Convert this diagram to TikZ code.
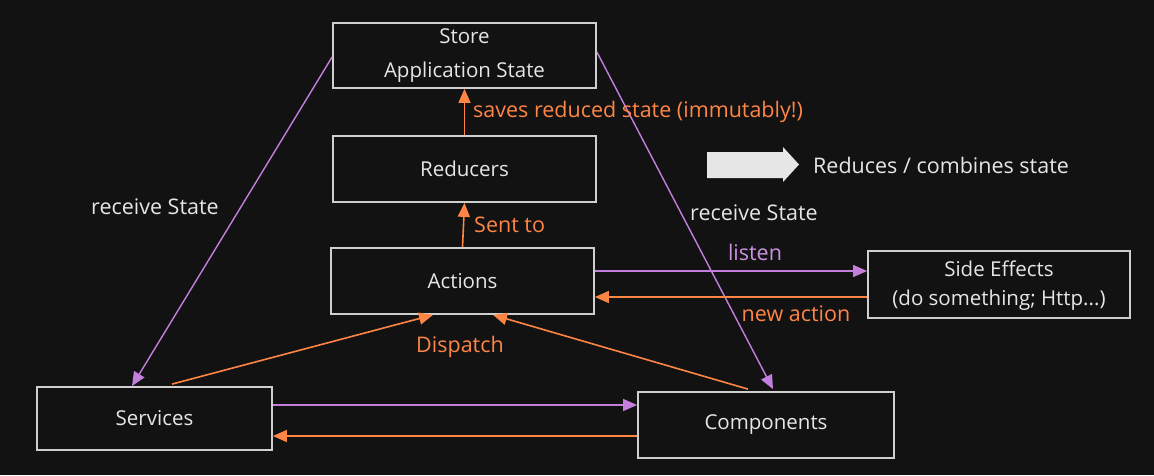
\documentclass[tikz,border=0pt]{standalone}
\usepackage{fontspec}
\setmainfont{Open Sans}
\usetikzlibrary{arrows.meta,calc}
\definecolor{bg}{HTML}{121212}
\definecolor{boxline}{HTML}{CFCFCF}
\definecolor{txt}{HTML}{E6E6E6}
\definecolor{orng}{HTML}{FF8545}
\definecolor{purp}{HTML}{C47FDE}
\tikzset{
  box/.style={draw=boxline, line width=1.8pt, fill=bg, text=txt, font=\fontsize{20.5}{32}\selectfont,
    inner sep=0pt, align=center},
  lbl/.style={font=\fontsize{21.5}{24}\selectfont, inner sep=0pt},
  oarr/.style={draw=orng, line width=1.6pt, -{Triangle[length=14pt,width=12pt]}},
  parr/.style={draw=purp, line width=1.4pt, -{Triangle[length=14pt,width=12pt]}},
}
\begin{document}
\begin{tikzpicture}[x=1pt,y=-1pt]
\fill[bg] (0,0) rectangle (1154,475);
\useasboundingbox (0,0) rectangle (1154,475);

% boxes
\node[box, minimum width=263pt, minimum height=65pt] (store) at (464.5,55.5) {Store\\[2pt]Application State};
\node[box, minimum width=263pt, minimum height=66pt] (reducers) at (464.5,169) {Reducers};
\node[box, minimum width=263pt, minimum height=66pt] (actions) at (462.5,281) {Actions};
\node[box, minimum width=262pt, minimum height=67pt] (side) at (999,284.5) {\rule{0pt}{18pt}Side Effects\\[-3pt](do something; Http...)};
\node[box, minimum width=235pt, minimum height=63pt] (services) at (154.5,418.5) {Services};
\node[box, minimum width=256pt, minimum height=66pt] (components) at (766,425) {Components};

% arrows
\draw[oarr] (reducers.north) -- (store.south);
\draw[oarr] (actions.north) -- (reducers.south);
\draw[parr] ([yshift=-1.5pt]store.west) -- ([xshift=-22.5pt]services.north);
\draw[parr] ([yshift=3.5pt]store.east) -- ([xshift=7pt,yshift=2pt]components.north);
\draw[parr] ([yshift=10pt]actions.east) -- ([yshift=13.5pt]side.west);
\draw[oarr] ([yshift=-12.5pt]side.west) -- ([yshift=-16pt]actions.east);
\draw[oarr] ([xshift=17.5pt,yshift=2pt]services.north) -- ([xshift=-29.5pt]actions.south);
\draw[oarr] ([xshift=-18pt,yshift=2pt]components.north) -- ([xshift=30.5pt]actions.south);
\draw[parr] ([yshift=13.5pt]services.east) -- ([yshift=20pt]components.west);
\draw[oarr] ([yshift=-11pt]components.west) -- ([yshift=-17.5pt]services.east);

% labels
\node[lbl, text=orng, anchor=west] (lsaves) at (473,112) {saves reduced state (immutably!)};
\node[lbl, text=orng, anchor=west] (lsent) at (474,225) {Sent to};
\node[lbl, text=txt, anchor=west] (lrecl) at (91,207) {receive State};
\node[lbl, text=txt, anchor=west] (lrecr) at (690,213) {receive State};
\node[lbl, text=purp!85!white] (llisten) at (755,252) {listen};
\node[lbl, text=orng] (lnew) at (796,314) {new action};
\node[lbl, text=orng] (ldisp) at (460,347) {Dispatch};
\node[lbl, text=txt, anchor=west] (lreduces) at (813,165) {Reduces / combines state};

% big white arrow
\fill[txt] (707,152) -- (783,152) -- (783,147) -- (799,164.5) -- (783,182) -- (783,178) -- (707,178) -- cycle;
\end{tikzpicture}
\end{document}
